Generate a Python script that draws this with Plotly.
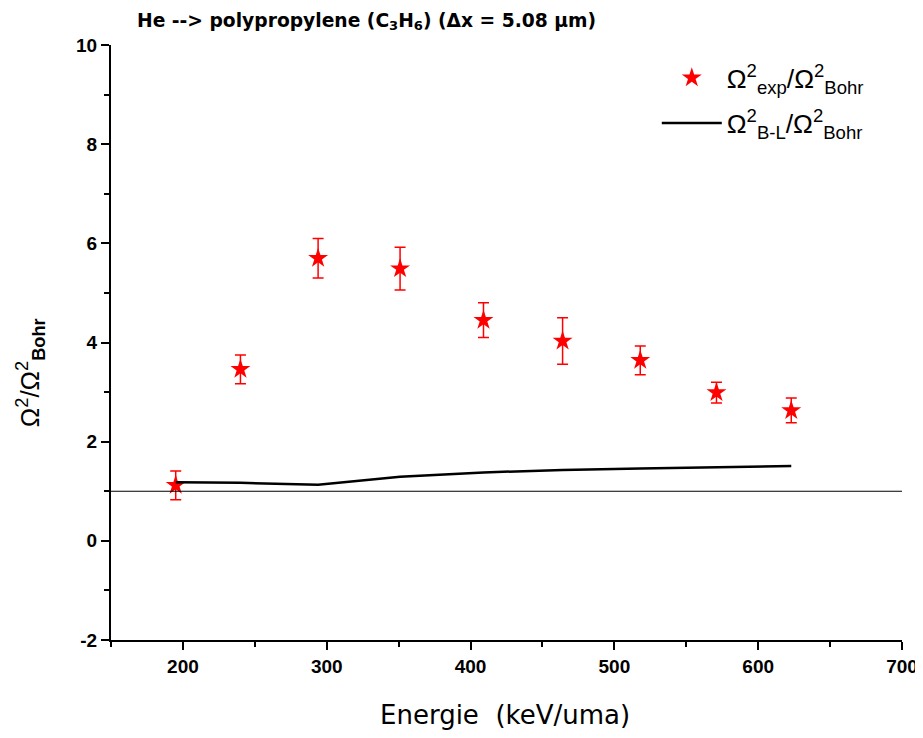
import plotly.graph_objects as go

# Data
energy = [195, 240, 294, 351, 409, 464, 518, 571, 623]
omega_exp = [1.12, 3.46, 5.70, 5.49, 4.45, 4.03, 3.64, 2.99, 2.63]
omega_err = [0.29, 0.29, 0.40, 0.43, 0.35, 0.47, 0.29, 0.21, 0.25]
bl_energy = [195, 240, 294, 351, 409, 464, 518, 571, 623]
omega_bl = [1.18, 1.17, 1.13, 1.29, 1.38, 1.43, 1.46, 1.49, 1.51]
ref_x = [150, 700]
ref_y = [1, 1]

x_ticks = [200, 300, 400, 500, 600, 700]
y_ticks = [-2, 0, 2, 4, 6, 8, 10]

SANS = "Liberation Sans, Arial, sans-serif"

# the page body has an 8px default margin, so the figure is sized to fit the window
W, H = 915, 730

fig = go.Figure()

fig.add_trace(go.Scatter(
    x=energy, y=omega_exp, mode="markers", legendgroup="a",
    name="Ω<sup>2</sup><sub>exp</sub>/Ω<sup>2</sup><sub>Bohr</sub>",
    marker=dict(symbol="star", size=15, color="#ff0000", line=dict(width=0)),
    error_y=dict(type="data", array=omega_err, visible=True, color="#ff0000",
                 thickness=1.5, width=5.5),
))
fig.add_trace(go.Scatter(
    x=bl_energy, y=omega_bl, mode="lines", legendgroup="b",
    name="Ω<sup>2</sup><sub>B-L</sub>/Ω<sup>2</sup><sub>Bohr</sub>",
    line=dict(color="black", width=2.5),
))
fig.add_trace(go.Scatter(
    x=ref_x, y=ref_y, mode="lines", showlegend=False,
    line=dict(color="black", width=1.2), hoverinfo="skip",
))

tickfont = dict(family="Liberation Sans", size=19, color="black", weight="bold")

fig.update_layout(
    width=W, height=H,
    margin=dict(l=103, r=21, t=37, b=98, autoexpand=False),
    paper_bgcolor="white", plot_bgcolor="white",
    showlegend=True,
    legend=dict(
        x=0.69, y=0.985, xanchor="left", yanchor="top",
        bgcolor="rgba(0,0,0,0)", borderwidth=0,
        font=dict(family=SANS, size=26.5, color="black"),
        itemwidth=60, tracegroupgap=8,
    ),
    title=dict(
        text="<b>He --> polypropylene (C<sub>3</sub>H<sub>6</sub>) (Δx = 5.08 μm)</b>",
        x=129/W, xanchor="left", y=1 - 12/H, yanchor="middle",
        pad=dict(l=0, r=0, t=0, b=0),
        font=dict(family="DejaVu Sans, sans-serif", size=18.7, color="black"),
    ),
    xaxis=dict(
        range=[150, 700], tickvals=x_ticks, ticktext=[str(v) for v in x_ticks],
        showgrid=False, zeroline=False, showline=True, linecolor="black", linewidth=2,
        ticks="outside", ticklen=8, tickwidth=2, tickcolor="black",
        minor=dict(dtick=50, tick0=150, ticks="outside", ticklen=5, tickwidth=1.5, tickcolor="black"),
        tickfont=tickfont, automargin=False, mirror=False,
    ),
    yaxis=dict(
        range=[-2, 10], tickvals=y_ticks, ticktext=[str(v) for v in y_ticks],
        showgrid=False, zeroline=False, showline=True, linecolor="black", linewidth=2,
        ticks="outside", ticklen=8, tickwidth=2, tickcolor="black",
        minor=dict(dtick=1, tick0=-2, ticks="outside", ticklen=5, tickwidth=1.5, tickcolor="black"),
        tickfont=tickfont, automargin=False, mirror=False,
    ),
    annotations=[
        dict(text="Energie  (keV/uma)", xref="paper", yref="paper",
             x=0.498, y=-0.126, xanchor="center", yanchor="middle", showarrow=False,
             font=dict(family="DejaVu Sans, sans-serif", size=26, color="black")),
        dict(text="Ω<sup>2</sup>/Ω<sup>2</sup><sub><b>Bohr</b></sub>", xref="paper", yref="paper",
             x=-0.102, y=0.449, xanchor="center", yanchor="middle", showarrow=False,
             textangle=-90,
             font=dict(family=SANS, size=26, color="black")),
    ],
)

fig.write_html("out.html")
